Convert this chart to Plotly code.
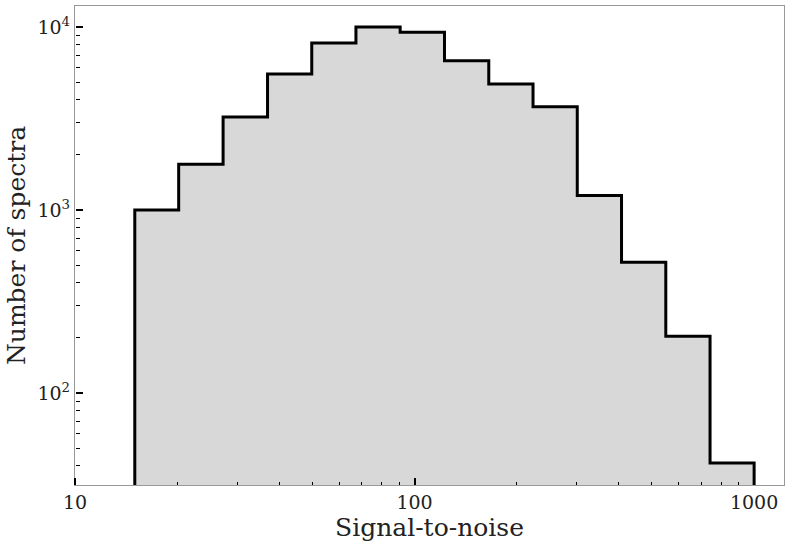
import plotly.graph_objects as go

# histogram of signal-to-noise
bin_edges = [15, 20.2, 27.3, 36.9, 49.8, 67.2, 90.7, 122.5, 165.4, 223.3,
             301.4, 406.9, 549.4, 741.7, 1000]
counts = [1000, 1780, 3220, 5530, 8190, 10000, 9360, 6540, 4890, 3670,
          1200, 518, 204, 41.4]

x_tickvals = [10, 100, 1000]
x_ticktext = ["10", "100", "1000"]
y_tickvals = [100, 1000, 10000]
y_ticktext = ["10<sup>2</sup>", "10<sup>3</sup>", "10<sup>4</sup>"]

x_range = [1, 3.088]
y_range = [1.497, 4.115]

# step outline, closed down below the visible range
floor = 1
xs = [bin_edges[0]]
ys = [floor]
for i, c in enumerate(counts):
    xs += [bin_edges[i], bin_edges[i + 1]]
    ys += [c, c]
xs.append(bin_edges[-1])
ys.append(floor)

fig = go.Figure()
fig.add_trace(go.Scatter(
    x=xs, y=ys, mode="lines", fill="toself",
    fillcolor="#d8d8d8", line=dict(color="black", width=3),
    hoverinfo="skip", showlegend=False,
))
# empty trace so the tick-only overlay axes get drawn
fig.add_trace(go.Scatter(x=[], y=[], xaxis="x2", yaxis="y2",
                         showlegend=False, hoverinfo="skip"))

font = "DejaVu Serif"
frame = dict(showline=True, linecolor="#999", linewidth=1.3, mirror=True,
             showgrid=False, zeroline=False, automargin=False, ticks="")
# overlay axes only carry the tick marks, pointing into the plot
tick_only = dict(
    tickmode="linear", tick0=0, dtick=1, showticklabels=False,
    ticks="outside", ticklen=7, tickwidth=1.6, tickcolor="black",
    minor=dict(dtick="D1", ticks="outside", ticklen=3.5, tickwidth=1.1,
               tickcolor="black"),
    showline=False, showgrid=False, zeroline=False, automargin=False,
)
fig.update_layout(
    width=789, height=544,
    margin=dict(l=75, r=5, t=6, b=59),
    plot_bgcolor="white", paper_bgcolor="white",
    font=dict(family=font, color="#222", size=19),
    xaxis=dict(
        type="log", range=x_range,
        tickmode="array", tickvals=x_tickvals, ticktext=x_ticktext,
        title=dict(text="Signal-to-noise", font=dict(size=25), standoff=4),
        **frame,
    ),
    yaxis=dict(
        type="log", range=y_range,
        tickmode="array", tickvals=y_tickvals, ticktext=y_ticktext,
        title=dict(text="Number of spectra", font=dict(size=25), standoff=4),
        **frame,
    ),
    xaxis2=dict(type="log", range=x_range, overlaying="x", side="top",
                anchor="free", position=0, **tick_only),
    yaxis2=dict(type="log", range=y_range, overlaying="y", side="right",
                anchor="free", position=0, **tick_only),
)

fig.write_html("out.html", config={"displayModeBar": False},
               post_script="document.body.style.margin='0';")
